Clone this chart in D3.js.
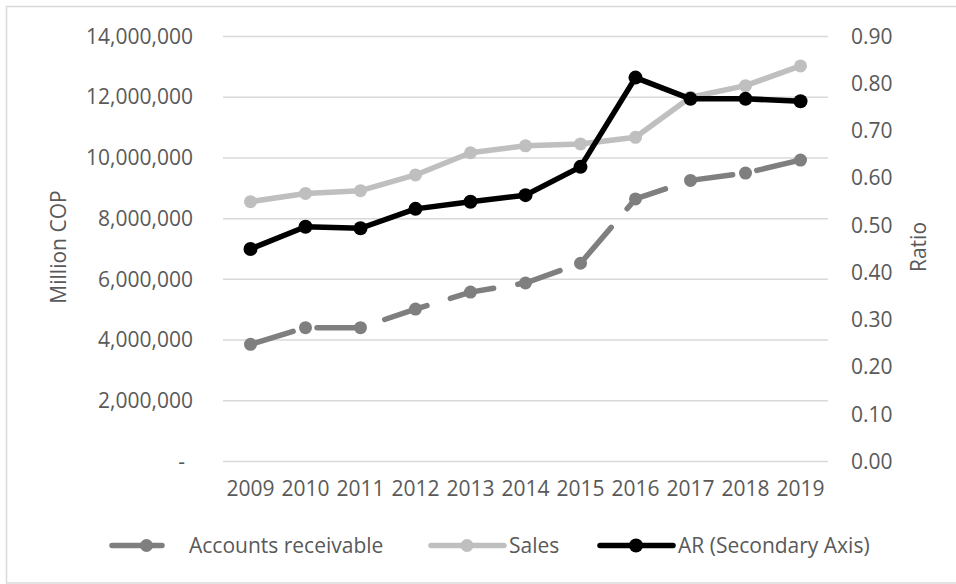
<!DOCTYPE html>
<html>
<head>
<meta charset="utf-8">
<script src="https://cdn.jsdelivr.net/npm/d3@7/dist/d3.min.js"></script>
<style>
  html, body { margin: 0; padding: 0; background: #fff; }
  svg { display: block; }
  text { font-family: "Open Sans", sans-serif; fill: #595959; }
</style>
</head>
<body>
<svg id="chart" width="956" height="584"></svg>
<script>
// Yearly figures (Million COP) and the AR ratio on the secondary axis
const years = ["2009","2010","2011","2012","2013","2014","2015","2016","2017","2018","2019"];
const receivables = [3860000, 4410000, 4410000, 5020000, 5580000, 5880000, 6530000, 8650000, 9260000, 9500000, 9930000];
const sales = [8560000, 8830000, 8920000, 9440000, 10170000, 10400000, 10460000, 10680000, 12000000, 12380000, 13030000];
const arRatio = [0.45, 0.497, 0.494, 0.535, 0.55, 0.564, 0.624, 0.813, 0.768, 0.768, 0.763];
const leftTicks = [0, 2000000, 4000000, 6000000, 8000000, 10000000, 12000000, 14000000];
const rightTicks = [0, 0.1, 0.2, 0.3, 0.4, 0.5, 0.6, 0.7, 0.8, 0.9];
const seriesNames = ["Accounts receivable", "Sales", "AR (Secondary Axis)"];

const svg = d3.select("#chart");
const plot = { left: 223, right: 828, top: 36.5, bottom: 461.5 };

// Outer frame
svg.append("rect")
  .attr("x", 6.5).attr("y", 6.5).attr("width", 960).attr("height", 576.5)
  .attr("fill", "none").attr("stroke", "#d9d9d9").attr("stroke-width", 1.5);

const x = d3.scaleBand().domain(years).range([plot.left, plot.right]);
const yL = d3.scaleLinear().domain([0, 14000000]).range([plot.bottom, plot.top]);
const yR = d3.scaleLinear().domain([0, 0.9]).range([plot.bottom, plot.top]);

// Gridlines
svg.append("g").selectAll("line").data(leftTicks).join("line")
  .attr("x1", plot.left).attr("x2", plot.right)
  .attr("y1", d => yL(d)).attr("y2", d => yL(d))
  .attr("stroke", "#d9d9d9").attr("stroke-width", 1.5);

// Left axis labels
const fmt = d3.format(",");
const leftAxis = d3.axisLeft(yL).tickValues(leftTicks)
  .tickFormat(d => d === 0 ? "-" : fmt(d)).tickSize(0).tickPadding(0);
const gL = svg.append("g").attr("transform", "translate(193,0)").call(leftAxis);
gL.select(".domain").remove();
gL.selectAll("text").attr("font-size", 21).attr("fill", "#595959")
  .attr("font-family", "Open Sans, sans-serif")
  .attr("dx", d => d === 0 ? -8 : 0);

// Right axis labels
const rightAxis = d3.axisRight(yR).tickValues(rightTicks)
  .tickFormat(d3.format(".2f")).tickSize(0).tickPadding(0);
const gR = svg.append("g").attr("transform", "translate(851,0)").call(rightAxis);
gR.select(".domain").remove();
gR.selectAll("text").attr("font-size", 21).attr("fill", "#595959")
  .attr("font-family", "Open Sans, sans-serif");

// Category axis labels
const xAxis = d3.axisBottom(x).tickSize(0).tickPadding(0);
const gX = svg.append("g").attr("transform", "translate(0,481)").call(xAxis);
gX.select(".domain").remove();
gX.selectAll("text").attr("font-size", 21).attr("fill", "#595959")
  .attr("font-family", "Open Sans, sans-serif");

// Axis titles
svg.append("text").attr("transform", "translate(66,247) rotate(-90)")
  .attr("text-anchor", "middle").attr("font-size", 21).text("Million COP");
svg.append("text").attr("transform", "translate(926,247) rotate(-90)")
  .attr("text-anchor", "middle").attr("font-size", 21).text("Ratio");

const cx = d => x(d) + x.bandwidth() / 2;

const series = [
  { name: seriesNames[0], values: receivables, y: yL, color: "#7f7f7f", dash: "44.5,24.5", r: 6.5 },
  { name: seriesNames[1], values: sales, y: yL, color: "#bfbfbf", dash: null, r: 6.5 },
  { name: seriesNames[2], values: arRatio, y: yR, color: "#000000", dash: null, r: 7 }
];

series.forEach(s => {
  const line = d3.line().x((d, i) => cx(years[i])).y(d => s.y(d));
  const g = svg.append("g");
  g.append("path").datum(s.values)
    .attr("d", line).attr("fill", "none")
    .attr("stroke", s.color).attr("stroke-width", 5.5)
    .attr("stroke-linejoin", "round").attr("stroke-linecap", "round")
    .attr("stroke-dasharray", s.dash);
  g.selectAll("circle").data(s.values).join("circle")
    .attr("cx", (d, i) => cx(years[i])).attr("cy", d => s.y(d))
    .attr("r", s.r).attr("fill", s.color);
});

// Legend
const legendY = 545.5;
const legendItems = [
  { x1: 112, x2: 162, mx: 146.5, tx: 189, s: series[0] },
  { x1: 431, x2: 504, mx: 467, tx: 509, s: series[1] },
  { x1: 600, x2: 673, mx: 636, tx: 678, s: series[2] }
];
const lg = svg.append("g");
legendItems.forEach(it => {
  lg.append("line").attr("x1", it.x1).attr("x2", it.x2)
    .attr("y1", legendY).attr("y2", legendY)
    .attr("stroke", it.s.color).attr("stroke-width", 5.5)
    .attr("stroke-linecap", "round")
    .attr("stroke-dasharray", it.s.dash ? "32,8" : null);
  lg.append("circle").attr("cx", it.mx).attr("cy", legendY).attr("r", it.s.r).attr("fill", it.s.color);
  lg.append("text").attr("x", it.tx).attr("y", legendY).attr("dy", "0.35em")
    .attr("font-size", 21).text(it.s.name);
});
</script>
</body>
</html>
